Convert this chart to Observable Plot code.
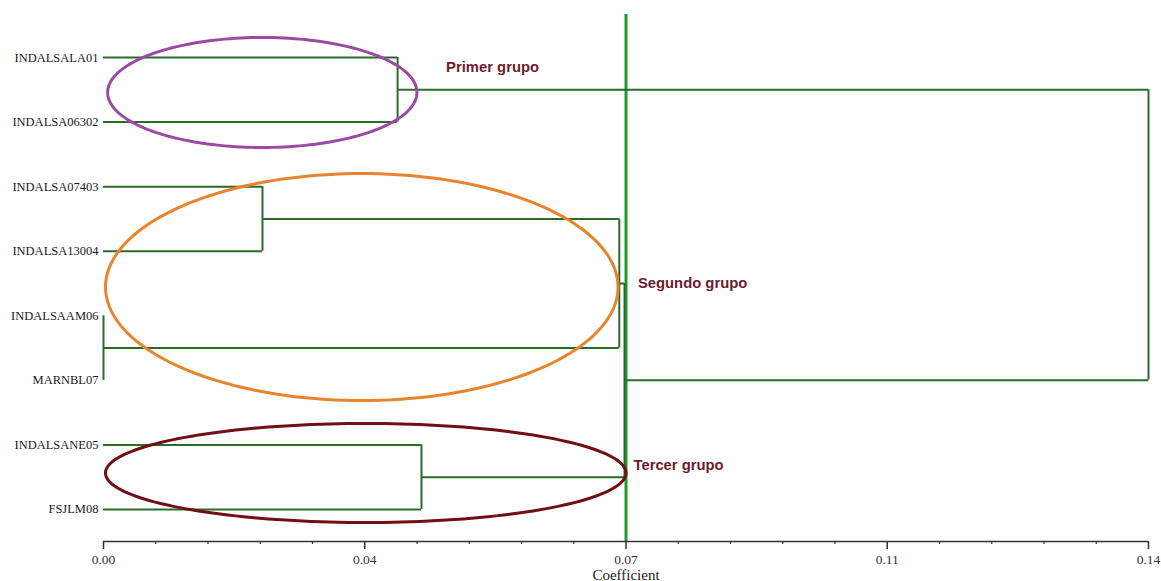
<!DOCTYPE html>
<html>
<head>
<meta charset="utf-8">
<script src="https://cdn.jsdelivr.net/npm/d3@7"></script>
<script src="https://cdn.jsdelivr.net/npm/@observablehq/plot@0.6"></script>
<style>
  html, body { margin: 0; padding: 0; background: #ffffff; }
</style>
</head>
<body>
<div id="chart"></div>
<script>
// ---- data ----
const leaves = ["INDALSALA01", "INDALSA06302", "INDALSA07403", "INDALSA13004",
                "INDALSAAM06", "MARNBL07", "INDALSANE05", "FSJLM08"];
// merges: [left node, right node, coefficient]; leaf ids 0..7, merge ids 8..
const mergeLeft   = [0, 2, 4, 9, 6, 11, 8];
const mergeRight  = [1, 3, 5, 10, 7, 12, 13];
const mergeHeight = [0.0394, 0.0213, 0.0000, 0.0691, 0.0426, 0.0698, 0.1400];
const cutValue = 0.07;
const majorTicks = [0, 0.035, 0.07, 0.105, 0.14];
const majorLabels = ["0.00", "0.04", "0.07", "0.11", "0.14"];
const minorStep = 0.007;
// group annotations
const groupNames  = ["Primer grupo", "Segundo grupo", "Tercer grupo"];
const groupLabelX = [0.0459, 0.0716, 0.0710];
const groupLabelY = [0.155, 3.50, 6.32];
const ellipseCx = [0.02127, 0.03460, 0.03513];
const ellipseRx = [0.02072, 0.03433, 0.03487];
const ellipseCy = [0.542, 3.555, 6.435];
const ellipseRy = [0.852, 1.758, 0.767];
const ellipseColor = ["#9a4aa3", "#e8842c", "#6e1014"];

// ---- build dendrogram geometry ----
const nodeX = leaves.map(() => 0);
const nodeY = leaves.map((_, i) => i);
const horiz = [], vert = [];
mergeLeft.forEach((l, k) => {
  const r = mergeRight[k], h = mergeHeight[k];
  vert.push({x: h, y1: nodeY[l], y2: nodeY[r]});
  horiz.push({y: nodeY[l], x1: nodeX[l], x2: h});
  horiz.push({y: nodeY[r], x1: nodeX[r], x2: h});
  nodeX.push(h);
  nodeY.push((nodeY[l] + nodeY[r]) / 2);
});

const ellipses = [];
ellipseCx.forEach((cx, g) => {
  for (let t = 0; t <= 180; t++) {
    const a = (t / 180) * 2 * Math.PI;
    ellipses.push({g, x: cx + ellipseRx[g] * Math.cos(a), y: ellipseCy[g] + ellipseRy[g] * Math.sin(a)});
  }
});

const minorTicks = d3.range(0, 21).filter(k => k % 5 !== 0).map(k => k * minorStep);
const tickLabels = majorTicks.map((v, i) => ({x: v, label: majorLabels[i]}));
const groups = groupNames.map((name, i) => ({name, x: groupLabelX[i], y: groupLabelY[i]}));
const leafData = leaves.map((name, i) => ({name, y: i}));

const lineGreen = "#2a6b2a";
const cutGreen = "#1f9a2c";

const yMin = -0.666, yMax = 7.496;
const serif = "Liberation Serif, Times New Roman, serif";

const chart = Plot.plot({
  width: 1161,
  height: 581,
  marginLeft: 103,
  marginRight: 13,
  marginTop: 14,
  marginBottom: 40,
  style: {background: "transparent", overflow: "visible"},
  x: {domain: [0, 0.14], axis: null},
  y: {domain: [yMin, yMax], reverse: true, axis: null},
  marks: [
    // cut line
    Plot.ruleX([cutValue], {y1: yMin, y2: yMax, stroke: cutGreen, strokeWidth: 3}),
    // dendrogram
    Plot.ruleY(horiz, {y: "y", x1: "x1", x2: "x2", stroke: lineGreen, strokeWidth: 2}),
    Plot.ruleX(vert, {x: "x", y1: "y1", y2: "y2", stroke: lineGreen, strokeWidth: 2}),
    // ellipses
    Plot.line(ellipses, {x: "x", y: "y", z: "g", stroke: d => ellipseColor[d.g], strokeWidth: 3, curve: "linear"}),
    // leaf labels
    Plot.text(leafData, {x: 0, y: "y", text: "name", textAnchor: "end", dx: -5,
      fontFamily: serif, fontSize: 12.5, fill: "#1a1a1a"}),
    // group labels
    Plot.text(groups, {x: "x", y: "y", text: "name", textAnchor: "start",
      fontFamily: "Liberation Sans, Arial, sans-serif", fontSize: 14.8, fontWeight: "bold", fill: "#6e1b2b"}),
    // axis
    Plot.ruleY([yMax], {x1: 0, x2: 0.14, stroke: "#333", strokeWidth: 1.5}),
    Plot.axisX(minorTicks, {tickSize: 3, text: null, stroke: "#333", strokeWidth: 1.2}),
    Plot.axisX(majorTicks, {tickSize: 8, text: null, stroke: "#333", strokeWidth: 1.5, label: null}),
    Plot.text(tickLabels, {x: "x", y: yMax, dy: 18, text: "label",
      fontFamily: serif, fontSize: 13.5, fill: "#333"}),
    Plot.text(["Coefficient"], {x: cutValue, y: yMax, dy: 34, text: d => d,
      fontFamily: serif, fontSize: 15, fill: "#1a1a1a"})
  ]
});
document.getElementById("chart").appendChild(chart);
</script>
</body>
</html>
